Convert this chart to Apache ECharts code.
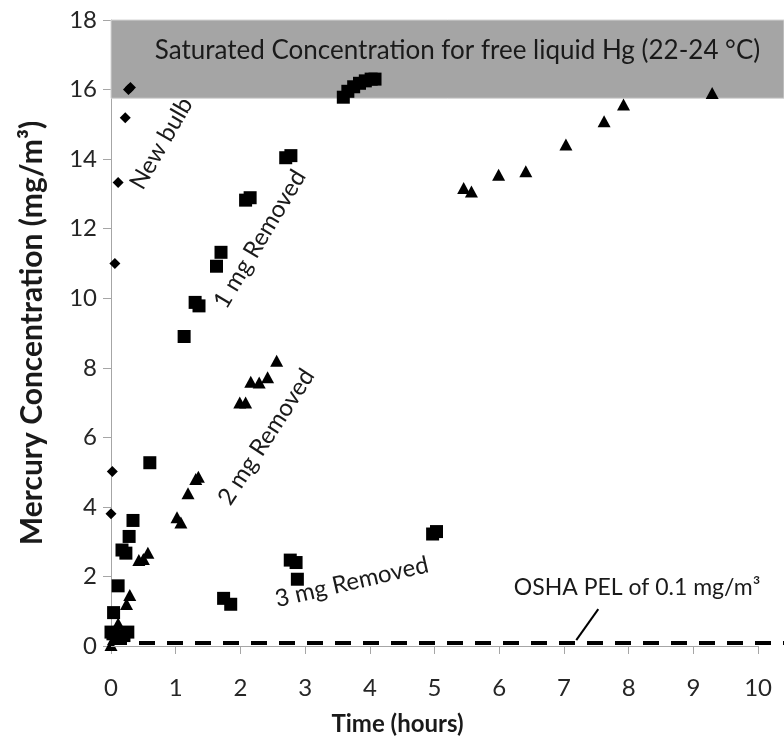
<!DOCTYPE html>
<html>
<head>
<meta charset="utf-8">
<script src="https://cdn.jsdelivr.net/npm/echarts@6/dist/echarts.min.js"></script>
<style>
  html, body { margin: 0; padding: 0; background: #fff; }
  #chart { width: 784px; height: 747px; }
</style>
</head>
<body>
<div id="chart"></div>
<script>
// tick labels
var xTicks = [0, 1, 2, 3, 4, 5, 6, 7, 8, 9, 10];
var yTicks = [0, 2, 4, 6, 8, 10, 12, 14, 16, 18];

// time (hours), concentration (mg/m3)
var newBulb = [[0.00, 3.80], [0.02, 5.02], [0.06, 11.0], [0.11, 13.33], [0.22, 15.19], [0.27, 16.0], [0.30, 16.06]];
var removed1mg = [[0.00, 0.40], [0.04, 0.96], [0.11, 1.73], [0.17, 2.76], [0.23, 2.67], [0.28, 3.15], [0.34, 3.61],
  [0.60, 5.27], [1.13, 8.90], [1.30, 9.88], [1.36, 9.78], [1.63, 10.92], [1.70, 11.32], [2.08, 12.82], [2.15, 12.89],
  [2.70, 14.04], [2.78, 14.10], [3.59, 15.78], [3.66, 15.95], [3.75, 16.08], [3.84, 16.18], [3.93, 16.25], [4.02, 16.30], [4.08, 16.30]];
var removed2mg = [[0.00, 0.03], [0.04, 0.20], [0.11, 0.65], [0.24, 1.21], [0.29, 1.47], [0.43, 2.47], [0.50, 2.50], [0.57, 2.68],
  [1.02, 3.70], [1.08, 3.55], [1.19, 4.39], [1.31, 4.80], [1.35, 4.87], [1.99, 7.00], [2.08, 7.00], [2.16, 7.60], [2.29, 7.58],
  [2.42, 7.73], [2.56, 8.20], [5.45, 13.17], [5.57, 13.07], [5.99, 13.55], [6.41, 13.65], [7.03, 14.42], [7.62, 15.09],
  [7.92, 15.57], [9.29, 15.90]];
var removed3mg = [[0.03, 0.35], [0.10, 0.25], [0.20, 0.30], [0.26, 0.40], [1.74, 1.37], [1.85, 1.20], [2.77, 2.47],
  [2.86, 2.40], [2.88, 1.92], [4.97, 3.22], [5.03, 3.29]];

var saturatedRange = [15.75, 18];
var oshaPel = 0.1;

// annotations: [text, x, y, angle in degrees]
var annotations = [
  ['New bulb', 0.78, 14.45, 60],
  ['1 mg Removed', 2.30, 11.70, 59],
  ['2 mg Removed', 2.40, 6.01, 57],
  ['3 mg Removed', 3.72, 1.84, 13]
];

var font = 'Lato, "Open Sans", sans-serif';
var textColor = '#1a1a1a';
var axisGray = '#a6a6a6';

var chart = echarts.init(document.getElementById('chart'));

function scatter(name, data, symbol, size) {
  return {
    name: name,
    type: 'scatter',
    data: data,
    symbol: symbol,
    symbolSize: size,
    itemStyle: { color: '#000', opacity: 1 },
    z: 3
  };
}

chart.setOption({
  animation: false,
  textStyle: { fontFamily: font },
  grid: { left: 111, right: 0, top: 20, bottom: 101 },
  xAxis: {
    type: 'value',
    min: 0,
    max: 10.4,
    interval: 1,
    name: 'Time (hours)',
    nameLocation: 'middle',
    nameGap: 66,
    nameTextStyle: { fontFamily: font, fontSize: 24, fontWeight: 'bold', color: textColor, padding: [0, 100, 0, 0] },
    axisLine: { show: false },
    axisTick: { show: true, customValues: xTicks, length: 8, lineStyle: { color: axisGray } },
    axisLabel: { customValues: xTicks, fontSize: 24, color: '#262626', margin: 30 },
    splitLine: { show: false }
  },
  yAxis: {
    type: 'value',
    min: 0,
    max: 18,
    interval: 2,
    name: 'Mercury Concentration (mg/m³)',
    nameLocation: 'middle',
    nameGap: 64,
    nameRotate: 90,
    nameTextStyle: { fontFamily: font, fontSize: 30, fontWeight: 'bold', color: textColor },
    axisLine: { show: true, lineStyle: { color: axisGray } },
    axisTick: { show: true, length: 8, lineStyle: { color: axisGray } },
    axisLabel: { fontSize: 24, color: '#262626', margin: 14 },
    splitLine: { show: false }
  },
  series: [
    {
      name: 'reference',
      type: 'scatter',
      data: [],
      z: 1,
      markArea: {
        silent: true,
        itemStyle: { color: '#a5a5a5', borderColor: '#d4d4d4', borderWidth: 1 },
        label: {
          show: true,
          position: 'inside',
          offset: [10, -9],
          fontFamily: font,
          fontSize: 26,
          color: textColor
        },
        data: [[
          { name: 'Saturated Concentration for free liquid Hg (22-24 °C)', xAxis: 0, yAxis: saturatedRange[0] },
          { xAxis: 10.4, yAxis: saturatedRange[1] }
        ]]
      },
      markLine: {
        silent: true,
        symbol: ['none', 'none'],
        label: { show: false },
        data: [
          { yAxis: oshaPel, lineStyle: { color: '#000', width: 4, type: [16, 12] } },
          [{ coord: [0, 0], lineStyle: { color: axisGray, width: 1, type: 'solid' } }, { coord: [10, 0] }]
        ]
      }
    },
    scatter('New bulb', newBulb, 'diamond', 11),
    scatter('1 mg Removed', removed1mg, 'rect', 13),
    scatter('2 mg Removed', removed2mg, 'triangle', [13, 12]),
    scatter('3 mg Removed', removed3mg, 'rect', 13)
  ]
});

// annotation texts placed through the chart's own scales
var graphics = annotations.map(function (a) {
  var p = chart.convertToPixel({ gridIndex: 0 }, [a[1], a[2]]);
  return {
    type: 'text',
    x: p[0],
    y: p[1],
    rotation: a[3] * Math.PI / 180,
    z: 10,
    style: { text: a[0], fontFamily: font, fontSize: 24, fill: textColor, align: 'center', verticalAlign: 'middle' }
  };
});

var oshaPos = chart.convertToPixel({ gridIndex: 0 }, [8.13, 1.67]);
graphics.push({
  type: 'text',
  x: oshaPos[0],
  y: oshaPos[1],
  z: 10,
  style: { text: 'OSHA PEL of 0.1 mg/m³', fontFamily: font, fontSize: 23, fill: textColor, align: 'center', verticalAlign: 'middle' }
});

var leadA = chart.convertToPixel({ gridIndex: 0 }, [7.19, 0.17]);
var leadB = chart.convertToPixel({ gridIndex: 0 }, [7.53, 1.06]);
graphics.push({
  type: 'line',
  z: 10,
  shape: { x1: leadA[0], y1: leadA[1], x2: leadB[0], y2: leadB[1] },
  style: { stroke: '#000', lineWidth: 2 }
});

chart.setOption({ graphic: graphics });
</script>
</body>
</html>
